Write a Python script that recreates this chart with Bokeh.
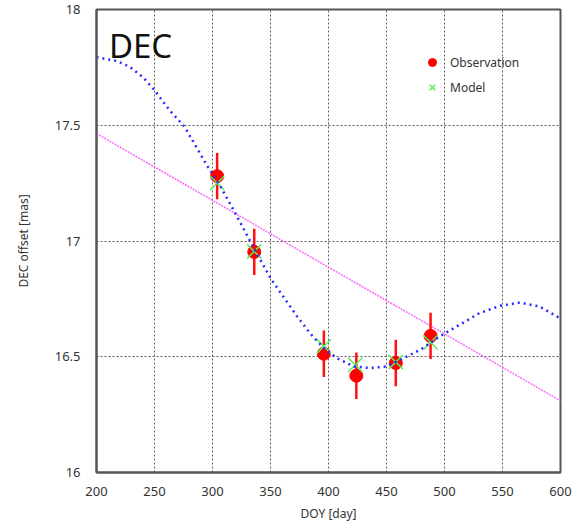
from bokeh.plotting import figure
from bokeh.models import Range1d, Label, Legend, LegendItem, FixedTicker
from bokeh.embed import file_html
from bokeh.resources import INLINE

# Observed DEC offsets with their uncertainties
obs_day = [304, 336, 396, 424, 458, 488]
obs_dec = [17.28, 16.953, 16.513, 16.418, 16.473, 16.59]
obs_err = [0.10, 0.10, 0.10, 0.10, 0.10, 0.10]

# Model predictions at the observation epochs
model_day = [304, 336, 396, 423, 458, 488]
model_dec = [17.25, 16.955, 16.545, 16.465, 16.477, 16.562]

# Full model curve (parallax + proper motion)
curve_day = [200, 218, 229, 240, 250, 263, 276, 286, 296, 307, 318, 334,
             350, 361, 373, 384, 396, 407, 422, 436, 450, 462, 479, 496,
             513, 530, 548, 565, 582, 600]
curve_dec = [17.794, 17.777, 17.751, 17.708, 17.651, 17.565, 17.493, 17.406,
             17.32, 17.235, 17.135, 16.985, 16.839, 16.76, 16.674, 16.602,
             16.537, 16.494, 16.458, 16.451, 16.458, 16.487, 16.53, 16.588,
             16.638, 16.688, 16.72, 16.734, 16.717, 16.665]

# Linear proper-motion component
pm_day = [200, 600]
pm_dec = [17.464, 16.31]

x_ticks = [200, 250, 300, 350, 400, 450, 500, 550, 600]
y_ticks = [16, 16.5, 17, 17.5, 18]

FONT = "Noto Sans"

p = figure(width=573, height=524, output_backend="svg", toolbar_location=None,
           x_range=Range1d(200, 600), y_range=Range1d(16, 18),
           min_border_left=96, min_border_right=13, min_border_top=9,
           min_border_bottom=51)
p.background_fill_color = "white"
p.border_fill_color = "white"
p.outline_line_color = "#555555"
p.outline_line_width = 2

for ax in (p.xaxis[0], p.yaxis[0]):
    ax.major_tick_line_color = None
    ax.minor_tick_line_color = None
    ax.axis_line_color = "#555555"
    ax.axis_line_width = 2
    ax.major_label_text_font = FONT
    ax.major_label_text_font_size = "13px"
    ax.major_label_text_color = "#333333"
    ax.axis_label_text_font = FONT
    ax.axis_label_text_font_size = "12px"
    ax.axis_label_text_font_style = "normal"
    ax.axis_label_text_color = "#333333"

p.xaxis.ticker = FixedTicker(ticks=x_ticks)
p.yaxis.ticker = FixedTicker(ticks=y_ticks)
p.yaxis.major_label_overrides = {16: "16", 16.5: "16.5", 17: "17", 17.5: "17.5", 18: "18"}
p.xaxis.axis_label = "DOY [day]"
p.yaxis.axis_label = "DEC offset [mas]"
p.xaxis.major_label_standoff = 8
p.yaxis.major_label_standoff = 10
p.xaxis.axis_label_standoff = 6
p.yaxis.axis_label_standoff = 20

p.grid.grid_line_color = "#333333"
p.grid.grid_line_dash = "2 2"
p.grid.grid_line_width = 1
p.grid.grid_line_alpha = 0.8

# proper-motion line
p.line(pm_day, pm_dec, line_color="#ff66ff", line_width=1.5, line_dash="2 1")

# error bars and observations
p.segment(x0=obs_day, y0=[v - e for v, e in zip(obs_dec, obs_err)],
          x1=obs_day, y1=[v + e for v, e in zip(obs_dec, obs_err)],
          line_color="#ff1010", line_width=2.5)
obs_r = p.scatter(obs_day, obs_dec, marker="circle", size=13,
                  fill_color="#ff0000", line_color="#ff0000")
mod_r = p.scatter(model_day, model_dec, marker="x", size=20,
                  line_color="#55ee55", line_width=1.5)

# model curve
p.line(curve_day, curve_dec, line_color="#2a2aff", line_width=2.5, line_dash="2 4")

p.add_layout(Label(x=210.7, y=17.747, text="DEC", text_font=FONT,
                   text_font_size="33px", text_color="#111111"))

legend = Legend(items=[LegendItem(label="Observation", renderers=[obs_r]),
                       LegendItem(label="Model", renderers=[mod_r])],
                location=(326, 375), padding=0, margin=0, spacing=5,
                glyph_width=20, glyph_height=20, label_standoff=8,
                label_text_font=FONT, label_text_font_size="12px",
                label_text_color="#333333", background_fill_alpha=0,
                border_line_color=None)
p.add_layout(legend)

open("out.html", "w").write(file_html(p, INLINE))
